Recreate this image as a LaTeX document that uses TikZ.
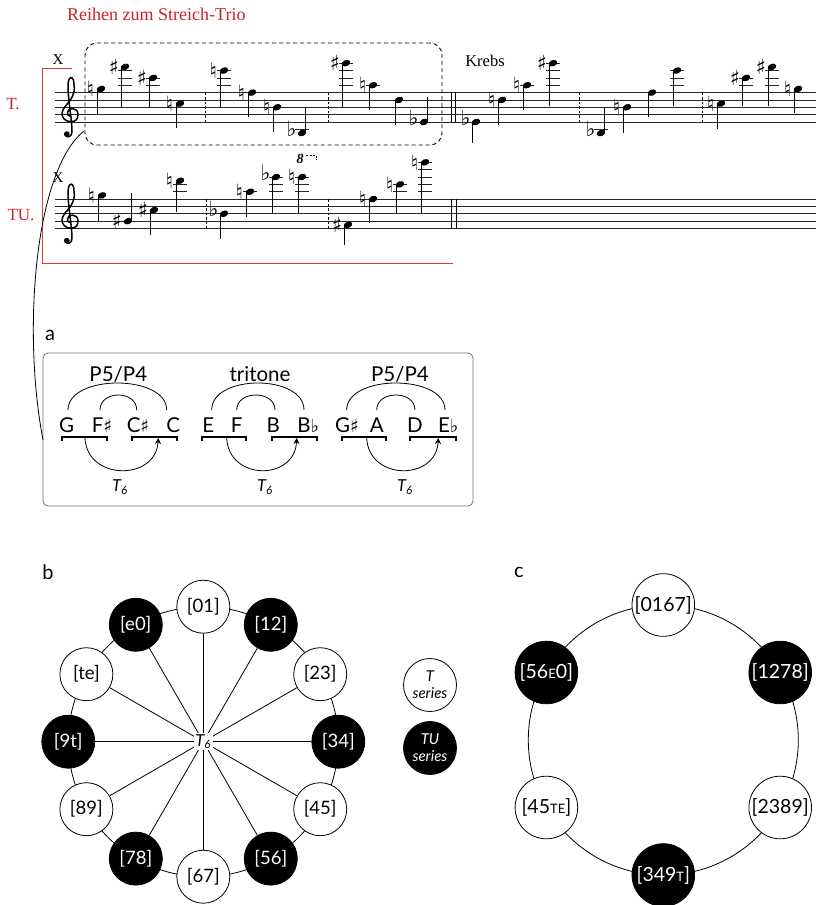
\documentclass[tikz,border=0pt]{standalone}
\usepackage{fontspec}
\setmainfont{Liberation Serif}
\newfontfamily\lat{Lato}
\newfontfamily\djv{DejaVu Sans}
\usetikzlibrary{arrows.meta,backgrounds}
\definecolor{tred}{RGB}{204,34,41}
\definecolor{bred}{RGB}{214,64,64}
\newcommand{\fsz}[1]{\fontsize{#1}{#1}\selectfont}
\newcommand{\curbot}{122}
\newcommand{\mnote}[4]{%
  \pgfmathsetmacro{\hy}{\curbot-(#2)*3.675}%
  \ifnum#2>9 \draw[ledger] (#1-7,\curbot-36.75) -- (#1+7,\curbot-36.75);\fi
  \ifnum#2>11 \draw[ledger] (#1-7,\curbot-44.1) -- (#1+7,\curbot-44.1);\fi
  \ifnum#2>13 \draw[ledger] (#1-7,\curbot-51.45) -- (#1+7,\curbot-51.45);\fi
  \ifnum#2>15 \draw[ledger] (#1-7,\curbot-58.8) -- (#1+7,\curbot-58.8);\fi
  \ifnum#2>17 \draw[ledger] (#1-7,\curbot-66.15) -- (#1+7,\curbot-66.15);\fi
  \ifnum#2<-1 \draw[ledger] (#1-7,\curbot+7.35) -- (#1+7,\curbot+7.35);\fi
  \fill[rotate around={22:(#1,\hy)}] (#1,\hy) ellipse [x radius=4.4pt, y radius=3.1pt];
  \pgfmathtruncatemacro{\sdn}{(#4>\hy)}%
  \ifnum\sdn=1 \draw[stem] (#1-3.9,\hy+0.5) -- (#1-3.9,#4);\else \draw[stem] (#1+3.9,\hy-0.5) -- (#1+3.9,#4);\fi
  \if s#3\node[acc] at (#1-11,\hy) {♯};\fi
  \if n#3\node[acc] at (#1-10.5,\hy) {♮};\fi
  \if f#3\node[acc] at (#1-10.5,\hy-4.5) {♭};\fi
}
\newcommand{\mstaff}[1]{\foreach \i in {0,...,4}{\draw[staffline] (55,#1-\i*7.35) -- (816,#1-\i*7.35);}}
\newcommand{\gclef}[2]{%
  \begin{scope}[shift={(#1,#2)}]
  \draw[line width=1.5pt, line cap=round, line join=round]
    (0.5,1.5) .. controls (-2,1.5) and (-2.5,0) .. (-2.5,-2)
    .. controls (-2.5,-5) and (0,-6.5) .. (3,-6)
    .. controls (6,-6) and (8,-3.5) .. (8,0)
    .. controls (8,5) and (5,7) .. (1,7)
    .. controls (-5,7) and (-8,3) .. (-8,-1)
    .. controls (-8,-6) and (-3,-10) .. (0,-14)
    .. controls (4,-20) and (5,-25) .. (4,-30)
    .. controls (4,-34) and (3,-37) .. (1,-37)
    .. controls (-1,-37) and (-2,-33) .. (-2,-28)
    .. controls (-2,-15) and (2,5) .. (2,17)
    .. controls (2,22) and (-2,23) .. (-3.5,21.5);
  \fill (-3.2,19.5) circle [radius=2.9pt];
  \end{scope}}
\newcommand{\smc}[1]{{\fsz{13}#1}}
\tikzset{
  staffline/.style={line width=0.7pt, black!85},
  ledger/.style={line width=0.7pt, black!85},
  stem/.style={line width=0.9pt},
  acc/.style={inner sep=0pt, font=\djv\fsz{21}},
  dbar/.style={line width=0.7pt, dash pattern=on 2.5pt off 2pt},
  redl/.style={draw=bred, line width=1pt},
  wn/.style={circle, draw, line width=0.8pt, fill=white, minimum size=53pt, inner sep=0pt, font=\lat\fsz{18.5}},
  bn/.style={wn, fill=black, text=white},
  wc/.style={wn, minimum size=62.6pt, font=\lat\fsz{19.5}},
  bc/.style={wc, fill=black, text=white},
  lg/.style={wn, font=\lat\itshape\fontsize{15}{17}\selectfont, align=center},
  let/.style={font=\lat\fsz{20.5}, inner sep=0pt},
  brk/.style={line width=1.7pt},
  arc/.style={line width=0.8pt},
}
\newcommand{\shp}{{\djv\fsz{18}♯}}
\newcommand{\flt}{{\djv\fsz{18}♭}}
\begin{document}
\begin{tikzpicture}[x=1pt,y=-1pt]
\useasboundingbox (0,0) rectangle (816,905);
\begin{scope}[on background layer]
\fill[white] (0,0) rectangle (816,905);
\end{scope}
% title and labels
\node[anchor=west, text=tred, font=\fsz{18}, inner sep=0] (title) at (67,14) {Reihen zum Streich-Trio};
\node[text=tred, font=\fsz{17}] (lT) at (13,104) {T.};
\node[text=tred, font=\fsz{17}] (lTU) at (21,215) {TU.};
\node[font=\fsz{15}] (x1) at (58,60) {X};
\node[font=\fsz{15}] (x2) at (58,178) {X};
\node[font=\fsz{16.5}] (krebs) at (485,61) {Krebs};
% red bracket
\draw[redl] (72,68) -- (42,68) -- (42,263) -- (453,263);
% staves
\mstaff{122}
\mstaff{228.5}
\gclef{70}{114.65}
\gclef{70}{221.15}
% barlines staff 1
\foreach \bx in {205,328,579,702}{\draw[dbar] (\bx,92.6) -- (\bx,122);}
\draw[line width=0.7pt] (451,92.6) -- (451,122) (455,92.6) -- (455,122);
% barlines staff 2
\foreach \bx in {206,328.3}{\draw[dbar] (\bx,199.1) -- (\bx,228.5);}
\draw[line width=0.7pt] (451.7,199.1) -- (451.7,228.5) (456,199.1) -- (456,228.5);
% notes staff 1
\renewcommand{\curbot}{122}
\mnote{101}{9}{n}{115}
\mnote{125}{15}{s}{107}
\mnote{153}{12}{s}{107}
\mnote{180}{5}{n}{128}
\mnote{224}{14}{n}{107}
\mnote{252}{8}{n}{117}
\mnote{277}{4}{n}{132}
\mnote{302}{-3}{f}{107}
\mnote{346}{16}{s}{107}
\mnote{373}{10}{n}{110}
\mnote{399}{6}{x}{125}
\mnote{424}{0}{f}{97}
\mnote{476}{0}{f}{143}
\mnote{502}{6}{n}{125}
\mnote{527}{10}{n}{110}
\mnote{553}{16}{s}{106}
\mnote{601}{-3}{f}{107}
\mnote{627}{4}{n}{133}
\mnote{652}{8}{x}{117}
\mnote{677}{14}{x}{106}
\mnote{721}{5}{n}{129}
\mnote{746}{12}{s}{106}
\mnote{772}{15}{s}{106}
\mnote{798}{9}{n}{113}
% notes staff 2
\renewcommand{\curbot}{228.5}
\mnote{102}{9}{n}{221}
\mnote{128}{2}{s}{193}
\mnote{154}{5}{s}{235}
\mnote{180}{13}{n}{212}
\mnote{224}{4}{f}{239}
\mnote{250}{10}{n}{217}
\mnote{276}{14}{f}{213}
\mnote{302}{14}{n}{213}
\mnote{348}{1}{s}{245}
\mnote{373}{8}{n}{223}
\mnote{400}{12}{n}{213}
\mnote{425}{18}{n}{213}
% ottava
\node[font=\bfseries\itshape\fsz{14}, inner sep=0] (ott) at (300,159) {8};
\coordinate (ottA) at (306,155);
\coordinate (ottB) at (316,155);
\coordinate (ottC) at (316,160);
\draw[line width=0.6pt, dash pattern=on 2pt off 1.5pt] (ottA) -- (ottB) -- (ottC);
% dashed box
\node[draw, dash pattern=on 4pt off 3pt, line width=0.9pt, rounded corners=12pt, minimum width=357pt, minimum height=102pt, inner sep=0] (dbox) at (263.5,94) {};
% box a
\node[draw=black!55, line width=0.8pt, rounded corners=5pt, minimum width=430pt, minimum height=153pt, inner sep=0] (boxa) at (258,429.5) {};
\coordinate (cst) at (84,131);
\coordinate (cen) at (43,440);
\draw[line width=0.8pt] (cst) .. controls (35,170) and (22,330) .. (cen);
\node[font=\lat\fsz{20}] (la) at (50,335) {a};
\node[font=\lat\fsz{20}] (lb) at (48,572) {b};
\node[font=\lat\fsz{20}] (lc) at (519,572) {c};
% group 1
\node[let] (g1a) at (66.7,425) {G};
\node[let] (g1b) at (102,425) {F\shp};
\node[let] (g1c) at (138,425) {C\shp};
\node[let] (g1d) at (173.3,425) {C};
\node[let] (g1t) at (118.3,374) {P5/P4};
\draw[arc] (68,410) .. controls (68,374) and (166.7,374) .. (166.7,410);
\draw[arc] (100,410) .. controls (100,390) and (136.7,390) .. (136.7,410);
\draw[brk] (61.7,441) -- (61.7,437) -- (107.3,437) -- (107.3,441);
\draw[brk] (131.7,441) -- (131.7,437) -- (177.3,437) -- (177.3,441);
\draw[arc, -{Stealth[length=6pt,width=6pt]}] (85,438) .. controls (87,481) and (156,481) .. (158.3,438);
\node[font=\lat\itshape\fsz{16.5}] (g1s) at (120,487) {T\textsubscript{6}};
% group 2
\node[let] (g2a) at (208.3,425) {E};
\node[let] (g2b) at (236.7,425) {F};
\node[let] (g2c) at (273.3,425) {B};
\node[let] (g2d) at (308.3,425) {B\flt};
\node[let] (g2t) at (260,374) {tritone};
\draw[arc] (211.7,410) .. controls (211.7,374) and (304,374) .. (304,410);
\draw[arc] (236.7,410) .. controls (236.7,390) and (275,390) .. (275,410);
\draw[brk] (201.7,441) -- (201.7,437) -- (246,437) -- (246,441);
\draw[brk] (271.7,441) -- (271.7,437) -- (316.7,437) -- (316.7,441);
\draw[arc, -{Stealth[length=6pt,width=6pt]}] (226.7,438) .. controls (228.7,481) and (294.7,481) .. (296.7,438);
\node[font=\lat\itshape\fsz{16.5}] (g2s) at (265,487) {T\textsubscript{6}};
% group 3
\node[let] (g3a) at (347,425) {G\shp};
\node[let] (g3b) at (376.7,425) {A};
\node[let] (g3c) at (415,425) {D};
\node[let] (g3d) at (448.3,425) {E\flt};
\node[let] (g3t) at (400,374) {P5/P4};
\draw[arc] (346.7,410) .. controls (346.7,374) and (445,374) .. (445,410);
\draw[arc] (376.7,410) .. controls (376.7,390) and (415,390) .. (415,410);
\draw[brk] (341.7,441) -- (341.7,437) -- (386,437) -- (386,441);
\draw[brk] (410,441) -- (410,437) -- (456,437) -- (456,441);
\draw[arc, -{Stealth[length=6pt,width=6pt]}] (366.7,438) .. controls (368.7,481) and (436.3,481) .. (438.3,438);
\node[font=\lat\itshape\fsz{16.5}] (g3s) at (405,487) {T\textsubscript{6}};
% circle b
\coordinate (bcen) at (203.3,741.7);
\foreach \lab/\sty [count=\i from 0] in {{[01]}/wn,{[12]}/bn,{[23]}/wn,{[34]}/bn,{[45]}/wn,{[56]}/bn,{[67]}/wn,{[78]}/bn,{[89]}/wn,{[9t]}/bn,{[te]}/wn,{[e0]}/bn}
  \node[\sty] (b\i) at ([shift={(30*\i-90:135)}]bcen) {\lab};
\node[fill=white, inner sep=1.5pt, font=\lat\itshape\fsz{16.5}] (t6) at (bcen) {T\textsubscript{6}};
\begin{scope}[on background layer]
  \draw[line width=0.8pt] (bcen) circle [radius=135pt];
  \foreach \i in {0,...,5}{\pgfmathtruncatemacro{\j}{\i+6}\draw[line width=0.8pt] (b\i) -- (b\j);}
\end{scope}
% legend
\node[lg] (legT) at (430,685) {T\\series};
\node[lg, fill=black, text=white] (legTU) at (430,748) {TU\\series};
% circle c
\coordinate (ccen) at (663.3,740);
\foreach \lab/\sty [count=\i from 0] in {{[0167]}/wc,{[1278]}/bc,{[2389]}/wc,{[349\smc{T}]}/bc,{[45\smc{TE}]}/wc,{[56\smc{E}0]}/bc}
  \node[\sty] (c\i) at ([shift={(60*\i-90:135)}]ccen) {\lab};
\begin{scope}[on background layer]
  \draw[line width=0.8pt] (ccen) circle [radius=135pt];
\end{scope}
\end{tikzpicture}
\end{document}
